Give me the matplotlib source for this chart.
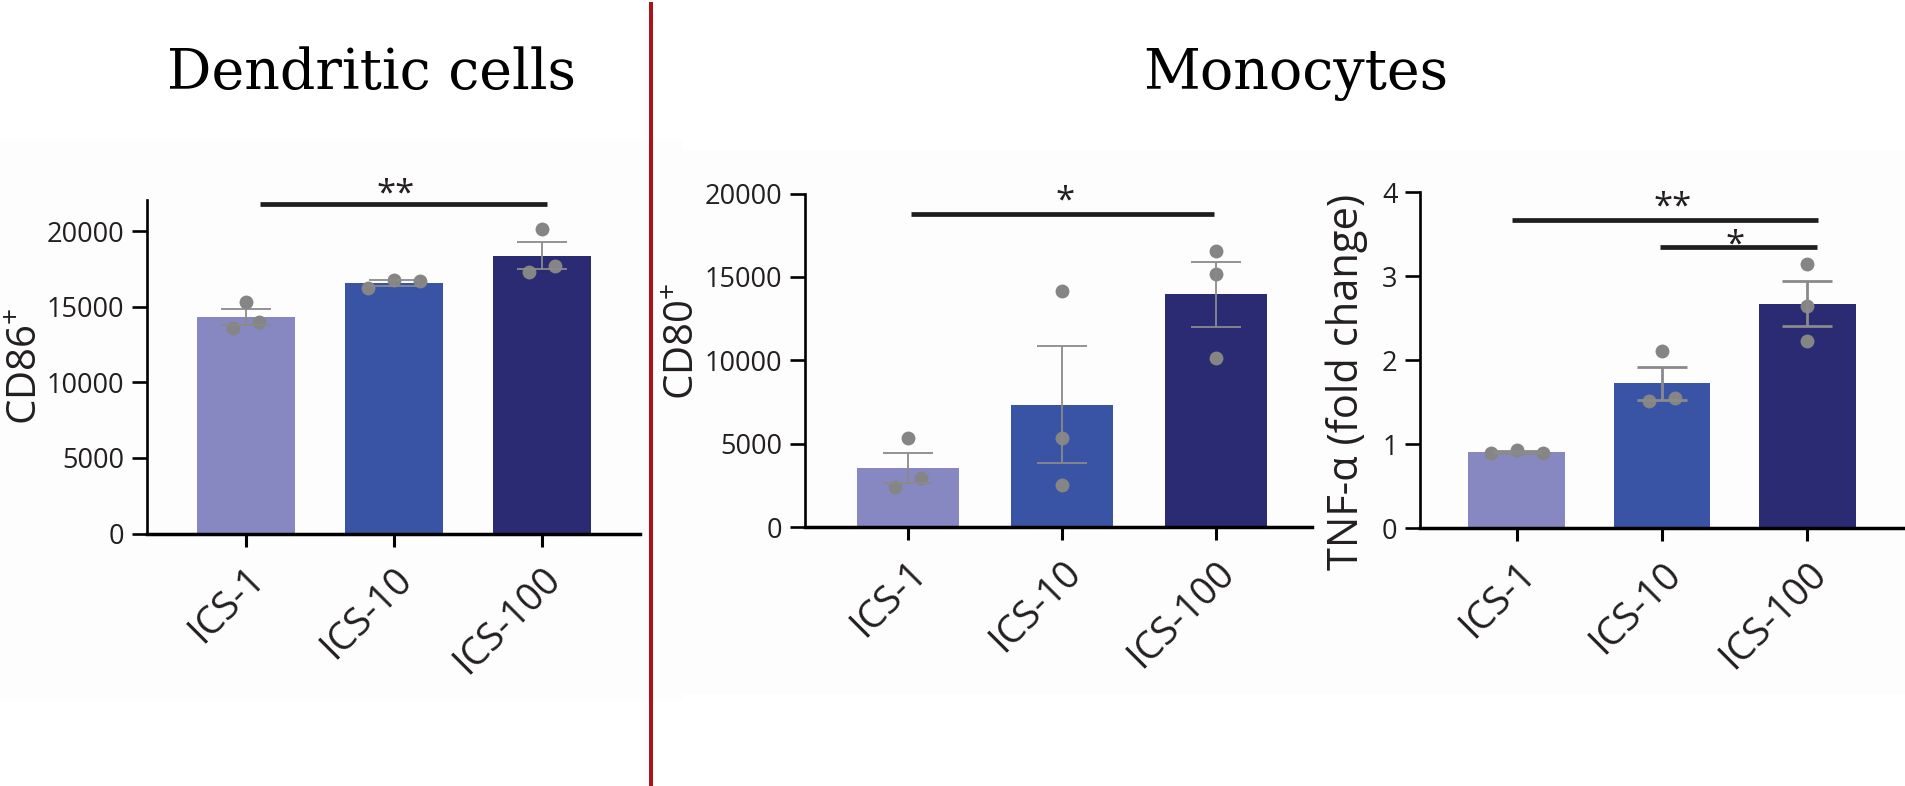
import numpy as np
import matplotlib
matplotlib.use("Agg")
import matplotlib.pyplot as plt
from matplotlib.transforms import ScaledTranslation
from matplotlib.patches import Rectangle
from matplotlib.lines import Line2D

# ---------------------------------------------------------------- data
groups = ["ICS-1", "ICS-10", "ICS-100"]

# CD86+ on dendritic cells, three replicates per group
cd86_ics1 = [13615, 15333, 13983]
cd86_ics10 = [16242, 16806, 16683]
cd86_ics100 = [17300, 20176, 17716]

# CD80+ on monocytes
cd80_ics1 = [2377, 5326, 2956]
cd80_ics10 = [14181, 5326, 2510]
cd80_ics100 = [16558, 15180, 10120]

# TNF-alpha fold change in monocytes
tnf_ics1 = [0.90, 0.93, 0.90]
tnf_ics10 = [1.51, 2.114, 1.554]
tnf_ics100 = [3.153, 2.647, 2.228]

bar_colors = ["#8788c1", "#3a54a5", "#2b2b73"]

# ---------------------------------------------------------------- style
plt.rcParams["font.family"] = ["Open Sans", "DejaVu Sans"]
plt.rcParams["mathtext.fontset"] = "custom"
plt.rcParams["mathtext.rm"] = "Open Sans"
plt.rcParams["mathtext.it"] = "Open Sans"
plt.rcParams["mathtext.bf"] = "Open Sans"

W, H = 1905, 786
fig = plt.figure(figsize=(W / 100, H / 100), dpi=100)
fig.patch.set_facecolor("white")

TXT = "#231f20"
DOT = "#858585"
ERR = "#8a8a8a"


def px_rect(x0, y0, x1, y1):
    """Figure-fraction rectangle from pixel edges (y measured from top)."""
    return [x0 / W, 1 - y1 / H, (x1 - x0) / W, (y1 - y0) / H]


# faint panel backgrounds
fig.patches.append(Rectangle((0, 1 - 698 / H), 681 / W, (698 - 140) / H,
                             transform=fig.transFigure, color="#fdfdfd", zorder=-5))
fig.patches.append(Rectangle((681 / W, 1 - 693 / H), (W - 681) / W, (693 - 150) / H,
                             transform=fig.transFigure, color="#fdfdfd", zorder=-5))


def swarm_x(ax, center, values, step_px=26.0, overlap_px=14.0):
    """Spread replicate dots sideways when they would overlap."""
    vals = np.asarray(values, float)
    ys = ax.transData.transform(np.column_stack([np.zeros_like(vals), vals]))[:, 1]
    x_per_px = 1.0 / (ax.transData.transform((1, 0))[0] - ax.transData.transform((0, 0))[0])
    order = np.argsort(ys)
    clusters, cur = [], [order[0]]
    for i in order[1:]:
        if abs(ys[i] - ys[cur[-1]]) < overlap_px:
            cur.append(i)
        else:
            clusters.append(cur)
            cur = [i]
    clusters.append(cur)
    xs = np.full(len(vals), float(center))
    for cl in clusters:
        cl = sorted(cl)
        k = len(cl)
        for r, i in enumerate(cl):
            xs[i] = center + (r - (k - 1) / 2) * step_px * x_per_px
    return xs


def panel(rect, xlim, ylim, yticks, replicates, ylabel, ylabel_size, label_xy,
          err_lw, sig):
    ax = fig.add_axes(rect)
    ax.set_facecolor("none")
    ax.set_xlim(*xlim)
    ax.set_ylim(*ylim)

    for i, reps in enumerate(replicates):
        reps = np.asarray(reps, float)
        mean = reps.mean()
        sem = reps.std(ddof=1) / np.sqrt(len(reps))
        ax.bar(i, mean, width=0.665, color=bar_colors[i], edgecolor="none", zorder=2)
        ax.plot(swarm_x(ax, i, reps), reps, "o", ms=10, color=DOT, mec="none",
                zorder=3, clip_on=False)
        ax.errorbar(i, mean, yerr=sem, fmt="none", ecolor=ERR, elinewidth=err_lw,
                    capsize=18, capthick=err_lw, zorder=4)

    for x0, x1, yl, label, xt, yt in sig:
        ax.plot([x0, x1], [yl, yl], color="#1e1e1e", lw=3.4, solid_capstyle="butt",
                clip_on=False, zorder=5)
        ax.text(xt, yt, label, fontsize=25, color=TXT, ha="center", va="baseline",
                transform=ax.transData + ScaledTranslation(0, -0.20, fig.dpi_scale_trans),
                clip_on=False)

    for s in ("top", "right"):
        ax.spines[s].set_visible(False)
    ax.spines["left"].set_linewidth(1.9)
    ax.spines["bottom"].set_linewidth(2.5)

    ax.set_yticks(yticks)
    ax.set_yticklabels([str(t) for t in yticks])
    ax.tick_params(axis="y", length=10.5, width=1.9, pad=5.9, labelsize=19.5,
                   labelcolor=TXT)
    ax.set_xticks(range(len(groups)))
    ax.set_xticklabels(groups, rotation=45, ha="right", va="baseline",
                       rotation_mode="anchor", fontsize=27.5, color=TXT)
    ax.tick_params(axis="x", length=9.4, width=2.2, pad=24.5)
    for lab in ax.get_xticklabels():
        lab.set_transform(lab.get_transform()
                          + ScaledTranslation(0.20, 0, fig.dpi_scale_trans))

    ax.set_ylabel(ylabel, fontsize=ylabel_size, color=TXT, va="center")
    ax.yaxis.set_label_coords(*label_xy)
    return ax


# Dendritic cells: CD86
panel(px_rect(147.3, 199.6, 640, 533.5), (-0.666, 2.664), (0, 22100),
      [0, 5000, 10000, 15000, 20000],
      [cd86_ics1, cd86_ics10, cd86_ics100],
      "CD86$^{+}$", 29, (-0.245, 0.50), 1.3,
      [(0.093, 2.035, 21836, "**", 1.01, 23188)])

# Monocytes: CD80
panel(px_rect(805.2, 193.6, 1312, 527.0), (-0.670, 2.625), (0, 20000),
      [0, 5000, 10000, 15000, 20000],
      [cd80_ics1, cd80_ics10, cd80_ics100],
      "CD80$^{+}$", 29, (-0.239, 0.558), 1.3,
      [(0.021, 1.989, 18752, "*", 1.02, 20156)])

# Monocytes: TNF-alpha
panel(px_rect(1420.4, 192.4, 1905, 528.3), (-0.663, 2.671), (0, 4),
      [0, 1, 2, 3, 4],
      [tnf_ics1, tnf_ics10, tnf_ics100],
      "TNF-α (fold change)", 30, (-0.153, 0.437), 2.0,
      [(-0.031, 2.074, 3.677, "**", 1.071, 3.950),
       (0.986, 2.066, 3.351, "*", 1.503, 3.496)])

# section divider and headings
fig.add_artist(Line2D([651.3 / W, 651.3 / W], [1 - 4 / H, 0], transform=fig.transFigure,
                      color="#a8141c", lw=2.9))
fig.text(371.7 / W, 1 - 89 / H, "Dendritic cells", ha="center", va="baseline",
         family="DejaVu Serif", fontsize=40, color="black")
fig.text(1295.8 / W, 1 - 89 / H, "Monocytes", ha="center", va="baseline",
         family="DejaVu Serif", fontsize=40, color="black")

fig.savefig("out.png", dpi=100, facecolor=fig.get_facecolor())
